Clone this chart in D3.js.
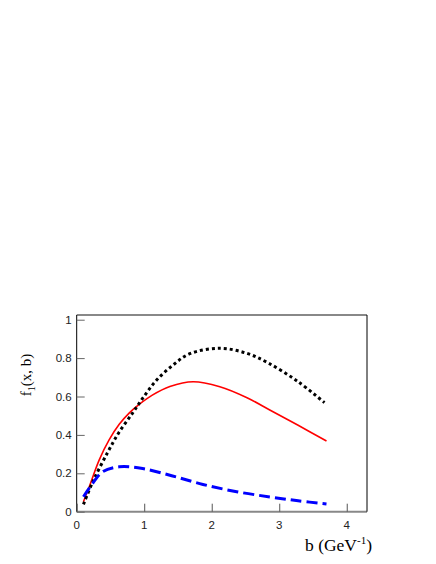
<!DOCTYPE html>
<html><head><meta charset="utf-8">
<script src="https://cdn.jsdelivr.net/npm/d3@7"></script>
<style>body{margin:0;background:#fff}</style>
</head><body>
<svg id="c" width="436" height="564"></svg>
<script>
const xTicks = [0, 1, 2, 3, 4];
const yTicks = [0, 0.2, 0.4, 0.6, 0.8, 1];
const yTickLabels = ["0", "0.2", "0.4", "0.6", "0.8", "1"];
const redX = [0.1, 0.186, 0.334, 0.48, 0.63, 0.78, 0.93, 1.12, 1.38, 1.725, 2.12, 2.515, 2.86, 3.28, 3.70];
const redY = [0.052, 0.13, 0.27, 0.374, 0.455, 0.515, 0.56, 0.607, 0.652, 0.677, 0.651, 0.595, 0.53, 0.45, 0.368];
const blackX = [0.1, 0.237, 0.46, 0.63, 0.83, 0.976, 1.17, 1.42, 1.676, 2.12, 2.51, 2.83, 3.28, 3.67];
const blackY = [0.038, 0.155, 0.31, 0.415, 0.515, 0.59, 0.68, 0.762, 0.823, 0.851, 0.826, 0.776, 0.677, 0.568];
const blueX = [0.1, 0.237, 0.385, 0.63, 0.976, 1.42, 1.87, 2.37, 2.86, 3.28, 3.70];
const blueY = [0.078, 0.148, 0.208, 0.234, 0.225, 0.186, 0.142, 0.104, 0.077, 0.057, 0.04];

const svg = d3.select("#c");
const L = 76.7, R = 367, T = 315, B = 511.7;
const x = d3.scaleLinear().domain([0, 4.3]).range([L, R]);
const y = d3.scaleLinear().domain([0, 1.0245]).range([B, T]);

// frame
svg.append("line").attr("x1", L).attr("x2", R).attr("y1", T).attr("y2", T).attr("stroke", "#888").attr("stroke-width", 2);
svg.append("line").attr("x1", L).attr("x2", R).attr("y1", B).attr("y2", B).attr("stroke", "#888").attr("stroke-width", 2);
svg.append("line").attr("x1", L).attr("x2", L).attr("y1", T).attr("y2", B).attr("stroke", "#000").attr("stroke-width", 1);
svg.append("line").attr("x1", R).attr("x2", R).attr("y1", T).attr("y2", B).attr("stroke", "#000").attr("stroke-width", 1);

// y axis ticks (inside)
const yAxis = d3.axisRight(y).tickValues(yTicks).tickSize(8).tickFormat("");
const gy = svg.append("g").attr("transform", `translate(${L},0)`).call(yAxis);
gy.select(".domain").remove();
gy.selectAll("line").attr("stroke", "#666");
svg.append("g").selectAll("text").data(yTicks).join("text")
  .attr("x", L - 5).attr("y", d => y(d) + 4).attr("text-anchor", "end")
  .attr("font-family", "Liberation Sans, Arial, sans-serif").attr("font-size", 11.5).attr("fill", "#222")
  .text((d, i) => yTickLabels[i]);

// x axis ticks (inside)
const xAxis = d3.axisTop(x).tickValues(xTicks).tickSize(8).tickFormat("");
const gx = svg.append("g").attr("transform", `translate(0,${B})`).call(xAxis);
gx.select(".domain").remove();
gx.selectAll("line").attr("stroke", "#555");
svg.append("g").selectAll("text").data(xTicks).join("text")
  .attr("x", d => x(d)).attr("y", B + 17).attr("text-anchor", "middle")
  .attr("font-family", "Liberation Sans, Arial, sans-serif").attr("font-size", 11.5).attr("fill", "#222")
  .text(d => d);

// curves
const line = d3.line().x(d => x(d[0])).y(d => y(d[1])).curve(d3.curveCatmullRom.alpha(0.5));
const zip = (a, b) => a.map((v, i) => [v, b[i]]);
svg.append("path").datum(zip(redX, redY)).attr("d", line).attr("fill", "none").attr("stroke", "#ff0000").attr("stroke-width", 1.6);
svg.append("path").datum(zip(blackX, blackY)).attr("d", line).attr("fill", "none").attr("stroke", "#000").attr("stroke-width", 3).attr("stroke-dasharray", "3,3");
svg.append("path").datum(zip(blueX, blueY)).attr("d", line).attr("fill", "none").attr("stroke", "#0000ff").attr("stroke-width", 3).attr("stroke-dasharray", "11,5");

// axis titles
const yt = svg.append("text").attr("transform", "translate(31,375) rotate(-90)").attr("text-anchor", "middle")
  .attr("font-family", "Liberation Serif, Times New Roman, serif").attr("font-size", 15).attr("fill", "#000");
yt.append("tspan").text("f");
yt.append("tspan").attr("font-size", 10).attr("dy", 4).text("1");
yt.append("tspan").attr("dy", -4).text("(x, b)");

const xt = svg.append("text").attr("x", 372).attr("y", 551).attr("text-anchor", "end")
  .attr("font-family", "Liberation Serif, Times New Roman, serif").attr("font-size", 17.5).attr("fill", "#000");
xt.append("tspan").text("b (GeV");
xt.append("tspan").attr("font-size", 11).attr("dy", -7).text("-1");
xt.append("tspan").attr("dy", 7).text(")");
</script>
</body></html>
